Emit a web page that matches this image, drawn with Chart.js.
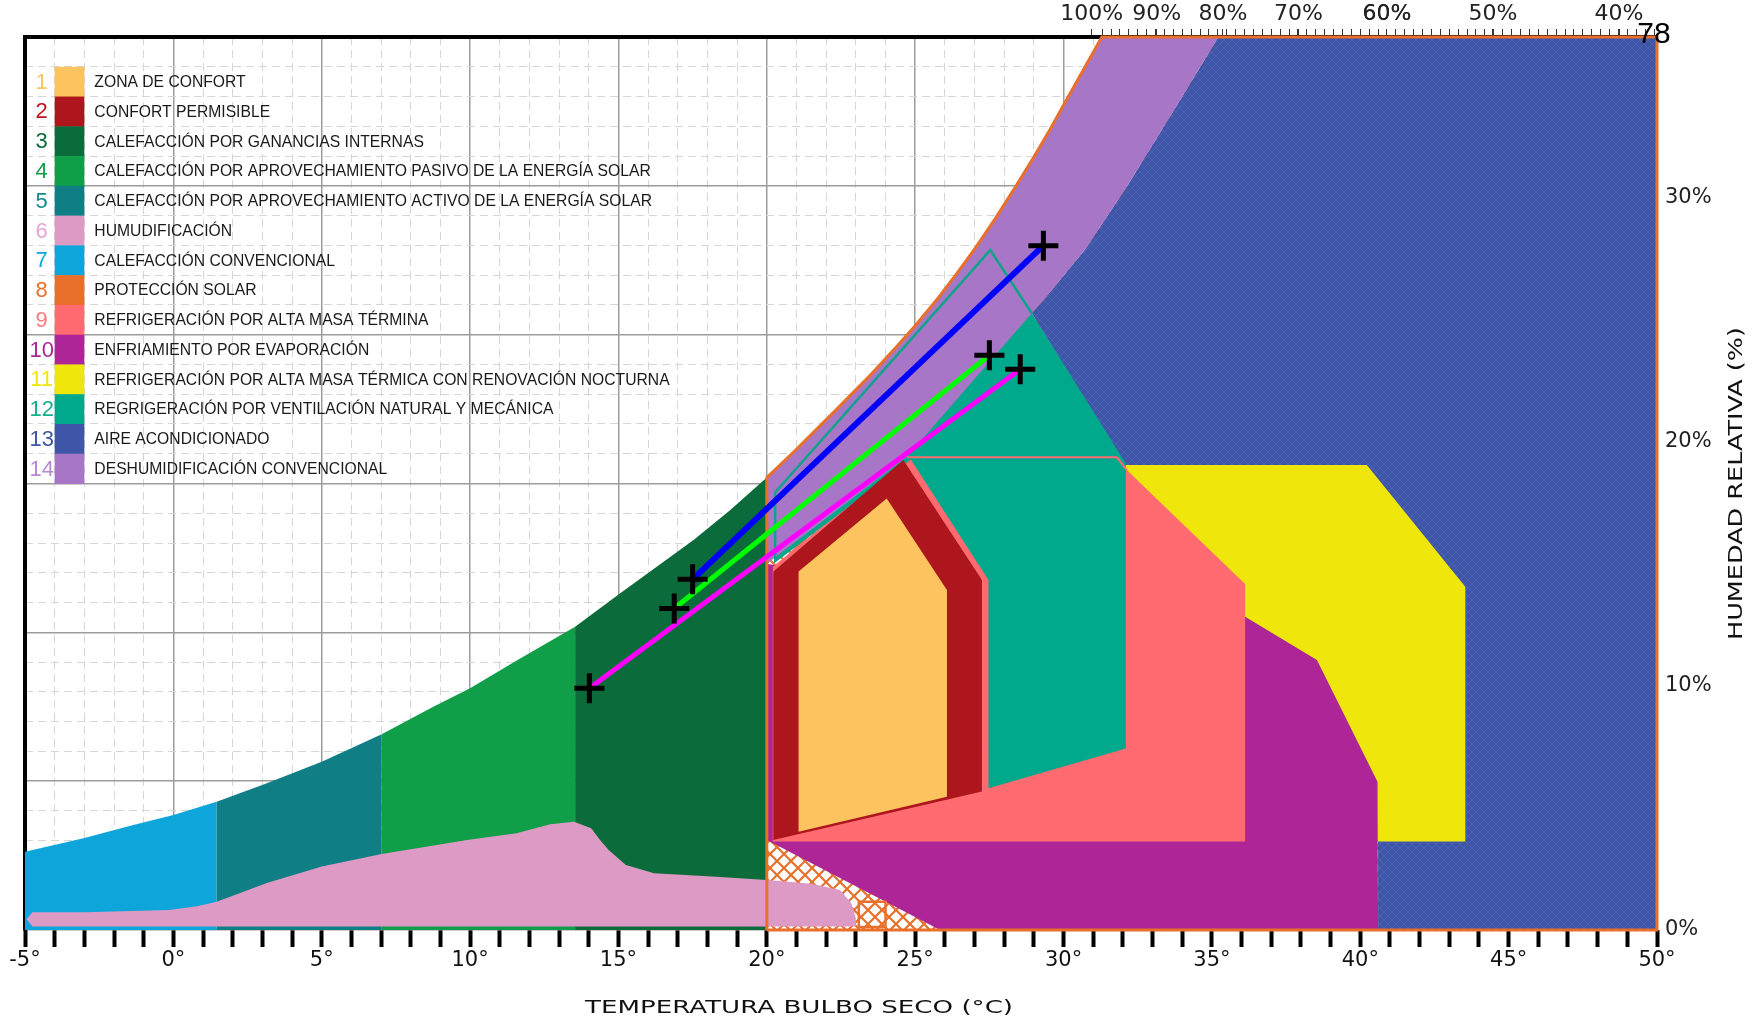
<!DOCTYPE html>
<html><head><meta charset="utf-8">
<script src="https://cdn.jsdelivr.net/npm/chart.js@4.4.0/dist/chart.umd.min.js"></script>
<style>html,body{margin:0;padding:0;background:#fff;}#wrap{width:1752px;height:1023px;position:relative;}canvas{display:block;}</style>
</head><body><div id="wrap"><canvas id="c"></canvas></div>
<script>
// ---------- values ----------
// saturation (100% RH) curve: dry-bulb temperature (°C) / humidity (chart units)
const satT = [-5, -3.03, -1.35, 0, 1.46, 3.15, 5.0, 7.02, 8.76, 10.0, 11.6, 13.54, 15.06, 16.29, 17.53, 18.76, 20, 21, 22.36, 23.5, 24.38, 25.0, 25.79, 26.4, 27.02, 27.7, 28.37, 28.99, 29.55, 30.05, 30.67, 31.29];
const satH = [2.63, 3.08, 3.53, 3.86, 4.31, 4.93, 5.65, 6.58, 7.5, 8.12, 9.07, 10.19, 11.31, 12.2, 13.1, 14.1, 15.2, 16.15, 17.5, 18.65, 19.6, 20.3, 21.25, 22.05, 22.9, 23.9, 24.95, 25.95, 26.9, 27.8, 28.9, 30.0];
// heating zone limits along the dry-bulb axis (7 | 5 | 4 | 3)
const heatLimits = [-5, 1.46, 7.02, 13.54, 20];
// 1 comfort
const zone1T = [21.07, 21.07, 24.04, 26.07, 26.07];
const zone1H = [3.3, 12.04, 14.5, 11.42, 4.48];
// 2 permissible comfort
const zone2T = [20.22, 20.22, 24.6, 27.25, 27.25];
const zone2H = [3.02, 12.04, 15.79, 11.76, 4.65];
// 6 humidification
const zone6T = [-4.75, -3, -0.14, 0.8, 1.46, 3.15, 5.0, 7.02, 9.9, 11.57, 12.7, 13.5, 14.08, 14.4, 14.67, 15.25, 16.2, 18.3, 20.0, 21.5, 22.47, 22.85, 23.0, 23.0, -4.75, -4.95];
const zone6H = [0.6, 0.6, 0.67, 0.8, 0.95, 1.58, 2.13, 2.55, 3.02, 3.25, 3.55, 3.64, 3.42, 3.0, 2.69, 2.18, 1.91, 1.79, 1.68, 1.55, 1.34, 0.9, 0.4, 0.12, 0.12, 0.36];
// 8 solar protection (bounded by saturation curve on the left/top)
const zone8CornerT = [50, 50];
const zone8CornerH = [30, 0];
const zone8BoxT = [23.1, 24.0, 24.0, 23.1, 23.1];
const zone8BoxH = [0.1, 0.1, 0.95, 0.95, 0.1];
// 9 high thermal mass
const zone9T = [20.2, 36.12, 36.12, 32.13, 31.8, 24.72, 20.2];
const zone9H = [2.97, 2.97, 11.62, 15.45, 15.88, 15.88, 12.2];
const zone9EdgeT = [24.72, 31.8, 32.13];
const zone9EdgeH = [15.88, 15.88, 15.45];
// 10 evaporative cooling
const zone10T = [20.0, 25.84, 40.6, 40.58, 38.54, 36.12, 30.0, 20.0];
const zone10H = [3.02, 0, 0, 4.98, 9.07, 10.52, 10.52, 12.3];
// 11 thermal mass + night ventilation
const zone11T = [32.08, 40.22, 43.54, 43.54, 36.0, 32.08];
const zone11H = [15.62, 15.62, 11.53, 2.97, 2.97, 10.0];
// 12 natural / mechanical ventilation
const zone12T = [27.47, 32.1, 32.1, 28.93, 27.53, 20.28, 20.28, 24.83, 27.47];
const zone12H = [4.76, 6.1, 15.67, 20.72, 22.84, 14.7, 12.4, 15.84, 11.76];
const zone12EdgeT = [24.83, 20.28, 20.28, 27.53, 28.93];
const zone12EdgeH = [15.84, 12.4, 14.7, 22.84, 20.72];
// 13 air conditioning
const zone13T = [28.93, 29.32, 30.73, 32.13, 33.93, 35.22, 50, 50, 40.6, 40.6, 36.0, 32.02];
const zone13H = [20.72, 21.16, 22.87, 24.97, 27.88, 30, 30, 0, 0, 5.0, 10.5, 15.67];
// 14 conventional dehumidification (saturation curve + right edge)
const zone14StartT = [20.0];
const zone14StartH = [12.3];
const zone14EdgeT = [35.22, 33.93, 32.13, 30.73, 29.32, 28.93, 24.72];
const zone14EdgeH = [30, 27.88, 24.97, 22.87, 21.16, 20.72, 15.9];
// monthly paths
const pathBlueT = [17.5, 29.32];   const pathBlueH = [11.78, 22.99];
const pathGreenT = [16.88, 27.5];  const pathGreenH = [10.8, 19.31];
const pathPinkT = [14.02, 28.54];  const pathPinkH = [8.12, 18.84];
// tick labels
const rhPos = [30.95, 33.14, 35.37, 37.92, 40.9, 44.47, 48.72];
const rhLabels = ['100%', '90%', '80%', '70%', '60%', '50%', '40%'];
const rightTickValues = [0, 10, 20, 30];
// legend
const legendLabels = ['ZONA DE CONFORT', 'CONFORT PERMISIBLE', 'CALEFACCIÓN POR GANANCIAS INTERNAS',
  'CALEFACCIÓN POR APROVECHAMIENTO PASIVO DE LA ENERGÍA SOLAR', 'CALEFACCIÓN POR APROVECHAMIENTO ACTIVO DE LA ENERGÍA SOLAR',
  'HUMUDIFICACIÓN', 'CALEFACCIÓN CONVENCIONAL', 'PROTECCIÓN SOLAR', 'REFRIGERACIÓN POR ALTA MASA TÉRMINA',
  'ENFRIAMIENTO POR EVAPORACIÓN', 'REFRIGERACIÓN POR ALTA MASA TÉRMICA CON RENOVACIÓN NOCTURNA',
  'REGRIGERACIÓN POR VENTILACIÓN NATURAL Y MECÁNICA', 'AIRE ACONDICIONADO', 'DESHUMIDIFICACIÓN CONVENCIONAL'];
const legendNumbers = ['1','2','3','4','5','6','7','8','9','10','11','12','13','14'];
const legendNumColors = ['#fdc35f','#c0141c','#0c6b3a','#10a048','#138a90','#e8a6d3','#0ea5db','#e8702a','#ff7a7f','#ad2597','#efe60c','#14b08e','#3f55a7','#b888d6'];
const zoneColors = ['#fdc35f','#ae161e','#0c6b3a','#109e48','#0f7e85','#dc9ac5','#0ea5db','#e8702a','#ff6b70','#ad2597','#efe60c','#00a98b','#3f55a7','#a876c7'];

// ---------- helpers ----------
const P = (T, H) => T.map((t, i) => ({ x: t, y: H[i] }));
const satPts = (a, b) => P(satT, satH).filter(p => p.x >= a && p.x <= b);
function hatch(bg, fg, size, lw) {
  const c = document.createElement('canvas'); c.width = c.height = size;
  const g = c.getContext('2d'); g.fillStyle = bg; g.fillRect(0, 0, size, size);
  g.strokeStyle = fg; g.lineWidth = lw; g.beginPath();
  g.moveTo(0, 0); g.lineTo(size, size); g.moveTo(size, 0); g.lineTo(0, size); g.stroke();
  return g.createPattern(c, 'repeat');
}
const poly = (label, data, bg) => ({ label, data, backgroundColor: bg, borderWidth: 0, fill: 'shape', pointRadius: 0, pointHoverRadius: 0, pointHitRadius: 0, tension: 0 });
const outline = (label, data, color, w) => ({ label, data, borderColor: color, borderWidth: w, fill: false, pointRadius: 0, pointHitRadius: 0, tension: 0, clip: false });
const path = (label, data, color, w) => ({ label, data, borderColor: color, borderWidth: w, fill: false, tension: 0,
  pointStyle: 'cross', pointRadius: 15, pointBorderWidth: 5, pointBorderColor: '#000', pointBackgroundColor: '#000' });
const heat = i => [{ x: heatLimits[i], y: 0 }, ...satPts(heatLimits[i], heatLimits[i + 1]), { x: heatLimits[i + 1], y: 0 }];

const zone8Pts = [{ x: 20, y: 0 }, ...satPts(20, 31.29), ...P(zone8CornerT, zone8CornerH)];
const datasetsBottomUp = [
  poly('8 PROTECCIÓN SOLAR', zone8Pts, hatch('#ffffff', '#e8702a', 14, 2.2)),
  poly('13 AIRE ACONDICIONADO', P(zone13T, zone13H), hatch('#3f55a7', '#4b62b2', 8, 1)),
  poly('7 CALEFACCIÓN CONVENCIONAL', heat(0), zoneColors[6]),
  poly('5 CALEFACCIÓN ACTIVA', heat(1), zoneColors[4]),
  poly('4 CALEFACCIÓN PASIVA', heat(2), zoneColors[3]),
  poly('3 GANANCIAS INTERNAS', heat(3), zoneColors[2]),
  poly('6 HUMUDIFICACIÓN', P(zone6T, zone6H), zoneColors[5]),
  poly('11 MASA TÉRMICA NOCTURNA', P(zone11T, zone11H), zoneColors[10]),
  poly('10 EVAPORACIÓN', P(zone10T, zone10H), zoneColors[9]),
  poly('9 ALTA MASA TÉRMICA', P(zone9T, zone9H), zoneColors[8]),
  poly('12 VENTILACIÓN', P(zone12T, zone12H), zoneColors[11]),
  outline('9 borde', P(zone9EdgeT, zone9EdgeH), zoneColors[8], 2),
  poly('14 DESHUMIDIFICACIÓN', [...P(zone14StartT, zone14StartH), ...satPts(20, 31.29), ...P(zone14EdgeT, zone14EdgeH)], zoneColors[13]),
  outline('12 borde', P(zone12EdgeT, zone12EdgeH), '#0fa38a', 2.5),
  poly('2 CONFORT PERMISIBLE', P(zone2T, zone2H), zoneColors[1]),
  poly('1 ZONA DE CONFORT', P(zone1T, zone1H), zoneColors[0]),
  outline('8 borde', zone8Pts.concat([{ x: 20, y: 0 }]), '#e8702a', 3),
  outline('8 etiqueta', P(zone8BoxT, zone8BoxH), '#e8702a', 2.5),
  path('Trayectoria 3', P(pathPinkT, pathPinkH), '#ff00ff', 5),
  path('Trayectoria 2', P(pathGreenT, pathGreenH), '#00ff00', 5),
  path('Trayectoria 1', P(pathBlueT, pathBlueH), '#0000ff', 6)
];
datasetsBottomUp.forEach((d, i) => { d.order = datasetsBottomUp.length - i; });

const topTicks = rhPos.slice();
for (let t = 31.3; t <= 50.001; t += 0.3) topTicks.push(+t.toFixed(2));

const textPlugin = {
  id: 'texts',
  afterDraw(chart) {
    const { ctx, chartArea: a, scales } = chart;
    const xs = scales.x, ys = scales.y;
    ctx.save();
    // legend inside the plot
    const l = xs.getPixelForValue(-4), r = xs.getPixelForValue(-3);
    legendLabels.forEach((lab, i) => {
      const top = ys.getPixelForValue(29 - i), bot = ys.getPixelForValue(28 - i);
      const cy = (top + bot) / 2;
      ctx.font = '22px "Liberation Sans", Arial, sans-serif';
      ctx.fillStyle = legendNumColors[i]; ctx.textAlign = 'center'; ctx.textBaseline = 'middle';
      ctx.fillText(legendNumbers[i], l - 13, cy + 1);
      ctx.fillStyle = zoneColors[i];
      ctx.fillRect(l, top, r - l, bot - top + 0.5);
      ctx.font = '15.7px "Liberation Sans", Arial, sans-serif';
      ctx.fillStyle = '#1a1a1a'; ctx.textAlign = 'left';
      ctx.fillText(lab, r + 10, cy + 1);
    });
    ctx.fillStyle = '#111';
    // x title
    ctx.font = '18px "DejaVu Sans", sans-serif';
    let t = 'TEMPERATURA BULBO SECO (°C)';
    let w = ctx.measureText(t).width;
    ctx.save();
    ctx.translate(a.left + (a.right - a.left) * 0.4743, a.bottom + 78);
    ctx.scale(428 / w, 1); ctx.textAlign = 'center'; ctx.textBaseline = 'middle';
    ctx.fillText(t, 0, 0); ctx.restore();
    // right title
    ctx.font = '19px "DejaVu Sans", sans-serif';
    t = 'HUMEDAD RELATIVA (%)';
    w = ctx.measureText(t).width;
    ctx.save();
    ctx.translate(a.right + 80, (a.top + a.bottom) / 2);
    ctx.rotate(-Math.PI / 2); ctx.scale(313 / w, 1);
    ctx.textAlign = 'center'; ctx.textBaseline = 'middle';
    ctx.fillText(t, 0, 0); ctx.restore();
    // top-right value
    ctx.font = '30px "Liberation Sans", Arial, sans-serif';
    ctx.fillStyle = '#000'; ctx.textAlign = 'center'; ctx.textBaseline = 'middle';
    ctx.fillText('78', a.right - 3, a.top - 2);
    ctx.restore();
  }
};

const gridAxis = (pos, step, color, lw, dash, fitProp, fitVal, extra) => Object.assign({
  type: 'linear', position: pos, display: true,
  min: pos === 'left' ? 0 : -5, max: pos === 'left' ? 30 : 50,
  ticks: { display: false, stepSize: step },
  grid: { color: c => (dash && c.tick && Math.abs(c.tick.value % 5) < 1e-9) ? 'rgba(0,0,0,0)' : color, lineWidth: lw, drawTicks: false },
  border: { display: false, dash: dash || [] },
  afterFit: s => { s[fitProp] = fitVal; }
}, extra || {});

new Chart(document.getElementById('c'), {
  type: 'line',
  data: { datasets: datasetsBottomUp },
  options: {
    responsive: true, maintainAspectRatio: false, animation: false, devicePixelRatio: 1,
    layout: { padding: 0 },
    plugins: { legend: { display: false }, tooltip: { enabled: false } },
    events: [],
    scales: {
      x: {
        type: 'linear', position: 'bottom', min: -5, max: 50,
        ticks: { stepSize: 1, autoSkip: false, maxRotation: 0, padding: 1, color: '#111',
          font: { family: '"DejaVu Sans", sans-serif', size: 21 },
          callback: v => (Math.abs(v % 5) < 1e-9 ? v + '°' : '') },
        grid: { drawOnChartArea: false, drawTicks: true, tickLength: 17, tickWidth: 4, tickColor: '#000' },
        border: { display: false },
        afterFit: s => { s.height = 93; }
      },
      xMinor: gridAxis('bottom', 1, '#d6d6d6', 1, [8, 5], 'height', 0),
      xMajor: gridAxis('bottom', 5, '#9c9c9c', 1.5, null, 'height', 0),
      y: Object.assign(gridAxis('left', 5, '#9c9c9c', 1.5, null, 'width', 25), { border: { display: true, color: '#000', width: 4 } }),
      yMinor: gridAxis('left', 1, '#d6d6d6', 1, [8, 5], 'width', 0),
      xTop: {
        type: 'linear', position: 'top', min: -5, max: 50,
        afterBuildTicks: s => { s.ticks = topTicks.map(v => ({ value: v })); },
        ticks: { autoSkip: false, maxRotation: 0, padding: 2, color: '#222',
          font: { family: '"DejaVu Sans", sans-serif', size: 22 },
          callback: v => { const i = rhPos.indexOf(v); return i >= 0 ? rhLabels[i] : ''; } },
        grid: { drawOnChartArea: false, drawTicks: true, tickLength: 8, tickWidth: 1, tickColor: '#333' },
        border: { display: true, color: '#000', width: 4 },
        afterFit: s => { s.height = 37; }
      },
      yRight: {
        type: 'linear', position: 'right', min: 0, max: 36.6,
        afterBuildTicks: s => { s.ticks = rightTickValues.map(v => ({ value: v })); },
        ticks: { padding: 8, color: '#222', font: { family: '"DejaVu Sans", sans-serif', size: 21 }, callback: v => v + '%' },
        grid: { drawOnChartArea: false, drawTicks: false },
        border: { display: false },
        afterFit: s => { s.width = 95; }
      }
    }
  },
  plugins: [textPlugin]
});
</script></body></html>
